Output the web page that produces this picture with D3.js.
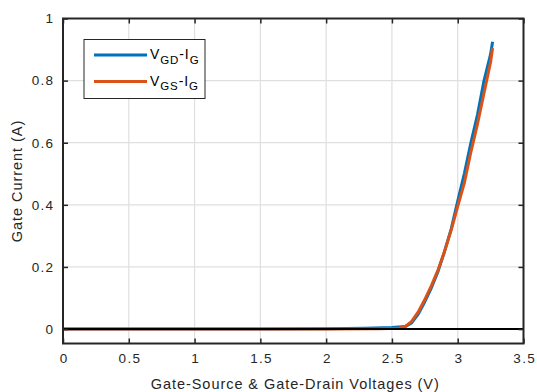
<!DOCTYPE html>
<html>
<head>
<meta charset="utf-8">
<script src="https://cdn.jsdelivr.net/npm/d3@7"></script>
<style>
body{margin:0;background:#fff;}
svg{display:block;font-family:"Liberation Sans",Arial,Helvetica,sans-serif;}
</style>
</head>
<body>
<svg id="chart" width="537" height="392"></svg>
<script>
const vgdV = [0,0.5,1,1.5,2,2.3,2.5,2.6,2.65,2.7,2.75,2.8,2.85,2.9,2.95,3.0,3.05,3.1,3.15,3.2,3.25,3.265];
const vgdI = [0,0,0,0,0.001,0.003,0.005,0.008,0.02,0.048,0.088,0.133,0.185,0.25,0.322,0.412,0.5,0.6,0.69,0.8,0.885,0.925];
const vgsV = [0,0.5,1,1.5,2,2.4,2.55,2.6,2.65,2.7,2.75,2.8,2.85,2.9,2.95,3.0,3.05,3.1,3.15,3.2,3.25,3.265];
const vgsI = [0,0,0,0,0,0.001,0.003,0.008,0.025,0.055,0.095,0.14,0.19,0.25,0.318,0.395,0.47,0.57,0.66,0.76,0.86,0.905];
const xTicks = [0,0.5,1,1.5,2,2.5,3,3.5];
const yTicks = [0,0.2,0.4,0.6,0.8,1];
const seriesNames = [["V","GD","-I","G"],["V","GS","-I","G"]];
const colors = ["#0072BD","#D95319"];

const svg = d3.select("#chart");
const L=63, R=523.5, T=18.5, B=343.5;
const x = d3.scaleLinear().domain([0,3.5]).range([L,R]);
const y = d3.scaleLinear().domain([-0.0465,1]).range([B,T]);
const axisColor="#262626";

// grid
svg.append("g").selectAll("line").data(xTicks).join("line")
  .attr("x1",d=>x(d)).attr("x2",d=>x(d)).attr("y1",T).attr("y2",B)
  .attr("stroke","#dfdfdf").attr("stroke-width",1.2);
svg.append("g").selectAll("line").data(yTicks).join("line")
  .attr("y1",d=>y(d)).attr("y2",d=>y(d)).attr("x1",L).attr("x2",R)
  .attr("stroke","#dfdfdf").attr("stroke-width",1.2);

// lines
const line = d3.line().x(d=>x(d[0])).y(d=>y(d[1]));
const dataSets = [d3.zip(vgdV,vgdI), d3.zip(vgsV,vgsI)];
dataSets.forEach((ds,i)=>{
  svg.append("path").datum(ds).attr("d",line).attr("fill","none")
    .attr("stroke",colors[i]).attr("stroke-width",3).attr("stroke-linejoin","round");
});

// zero line
svg.append("line").attr("x1",L).attr("x2",R).attr("y1",y(0)).attr("y2",y(0))
  .attr("stroke","#000").attr("stroke-width",2);

// axes
const ls = 1.3;
const xAxisB = d3.axisBottom(x).tickValues(xTicks).tickSize(-5).tickPadding(10).tickFormat(d3.format("~g"));
const xAxisT = d3.axisTop(x).tickValues(xTicks).tickSize(-5).tickFormat("");
const yAxisL = d3.axisLeft(y).tickValues(yTicks).tickSize(-5).tickPadding(10-ls).tickFormat(d3.format("~g"));
const yAxisR = d3.axisRight(y).tickValues(yTicks).tickSize(-5).tickFormat("");
function style(g){
  g.selectAll(".domain").remove();
  g.selectAll(".tick line").attr("stroke",axisColor).attr("stroke-width",1.5);
  g.selectAll(".tick text").attr("fill",axisColor).style("font-size","13.5px").style("letter-spacing",ls+"px");
}
const gxb = svg.append("g").attr("transform",`translate(0,${B})`).call(xAxisB).call(style);
gxb.selectAll(".tick text").attr("dx",ls/2);
svg.append("g").attr("transform",`translate(0,${T})`).call(xAxisT).call(style);
svg.append("g").attr("transform",`translate(${L},0)`).call(yAxisL).call(style);
svg.append("g").attr("transform",`translate(${R},0)`).call(yAxisR).call(style);
svg.append("rect").attr("x",L).attr("y",T).attr("width",R-L).attr("height",B-T)
  .attr("fill","none").attr("stroke",axisColor).attr("stroke-width",2);

// axis titles
svg.append("text").attr("x",(L+R)/2+2).attr("y",388.5).attr("text-anchor","middle")
  .attr("fill",axisColor).style("font-size","14.5px").style("letter-spacing","0.95px")
  .text("Gate-Source & Gate-Drain Voltages (V)");
svg.append("text").attr("transform",`translate(22,${(T+B)/2}) rotate(-90)`).attr("text-anchor","middle")
  .attr("fill",axisColor).style("font-size","14.5px").style("letter-spacing","0.95px").text("Gate Current (A)");

// legend
const lg = svg.append("g");
lg.append("rect").attr("x",84).attr("y",39.5).attr("width",121).attr("height",59)
  .attr("fill","#fff").attr("stroke",axisColor).attr("stroke-width",1);
seriesNames.forEach((n,i)=>{
  const yy = 55 + i*26.5;
  lg.append("line").attr("x1",94).attr("x2",147).attr("y1",yy).attr("y2",yy)
    .attr("stroke",colors[i]).attr("stroke-width",3);
  const t = lg.append("text").attr("x",150).attr("y",yy+4).attr("fill","#000")
    .style("font-size","14px").style("letter-spacing","0.9px");
  t.append("tspan").text(n[0]);
  t.append("tspan").attr("dy",4.5).style("font-size","11.5px").text(n[1]);
  t.append("tspan").attr("dy",-4.5).text(n[2]);
  t.append("tspan").attr("dy",4.5).style("font-size","11.5px").text(n[3]);
});
</script>
</body>
</html>
